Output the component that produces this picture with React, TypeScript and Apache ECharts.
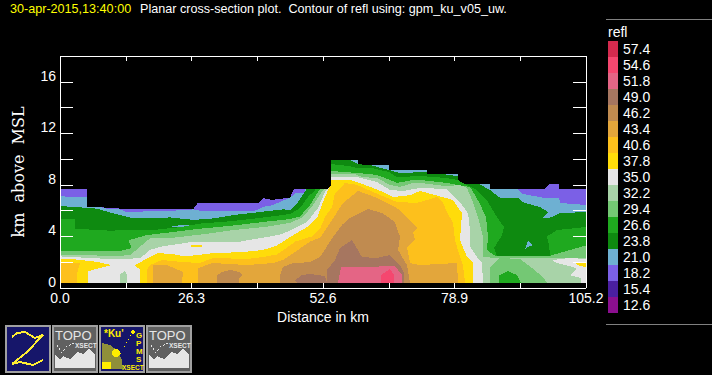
import React, { useEffect, useRef } from "react";
import * as echarts from "echarts";

type P = number[][];

// Legend
const legendLevels = ["57.4","54.6","51.8","49.0","46.2","43.4","40.6","37.8","35.0","32.2","29.4","26.6","23.8","21.0","18.2","15.4","12.6"];
const legendColors = ["#d42a4e","#f5476f","#e46585","#a67660","#c08b50","#e3a63b","#fdc01c","#ffdc0a","#e6e6e6","#a8d3a8","#74c874","#1fa91f","#0e8a10","#6eb0d2","#7b60e6","#4a1fa0","#8b0f8f"];
const colorOf = (level: string) => legendColors[legendLevels.indexOf(level)];

// Contour regions: [distance km, height km]
const refl18: P = [[0,.41],[0,7.68],[5.3,7.68],[5.3,6.26],[8.3,6.26],[12,6.16],[26.7,6.16],[27.5,6.57],[39.7,6.62],[40.7,6.98],[42.3,6.83],[46,7.01],[46.8,7.68],[54.2,7.68],[54.2,9.93],[59.6,9.93],[59.6,9.54],[65.8,9.54],[65.8,9.15],[73.3,9.15],[73.3,8.84],[79.5,8.84],[79.5,8.07],[86,8.07],[86,7.68],[97,7.68],[97.8,8.07],[99.8,8.07],[99.8,7.68],[105.2,7.68],[105.2,.41]];
const refl21: P = [[0,.41],[0,7.15],[1.9,7.05],[5.3,7.05],[5.3,6.26],[8.3,6.26],[9.3,6.16],[12,6.1],[13.3,5.9],[22.7,6.0],[26.7,6.1],[28,6.0],[39,6.0],[40.7,6.3],[42.3,6.4],[46,7.0],[47,7.35],[49,7.4],[49,7.68],[54.2,7.68],[54.2,9.93],[59.6,9.93],[59.6,9.54],[65.8,9.54],[65.8,9.15],[73.3,9.15],[73.3,8.84],[79.5,8.84],[79.5,8.07],[86,8.07],[86,7.68],[91.4,7.68],[92.6,7.29],[97,6.98],[99.8,6.98],[100,6.6],[105.2,6.44],[105.2,.41]];
const refl24: P = [[0,.41],[0,6.36],[4,6.26],[7.3,6.16],[10.7,5.79],[14.7,5.4],[18.7,5.4],[22,5.48],[26.7,5.28],[30.7,5.4],[34.7,5.66],[38.7,5.84],[44.7,6.1],[46,6.05],[47.6,6.67],[49.2,7.6],[49.2,7.68],[54.2,7.68],[54.2,9.93],[58,9.93],[59.6,9.6],[62,9.54],[65.8,9.15],[68,8.92],[73.3,9.0],[73.3,8.84],[76.6,8.84],[79.5,8.68],[79.5,8.07],[83.8,8.07],[86,7.6],[88,7.0],[91.6,7.0],[92.4,6.67],[96,6.28],[97.6,5.9],[96.6,5.43],[98,5.46],[100,5.8],[105.2,5.9],[105.2,.41]];
const refl21IslandA: P = [[22.2,4.78],[24.5,4.89],[27.6,4.82],[24.5,4.68]];
const refl21IslandB: P = [[93,3.03],[93.6,3.65],[94.6,3.34],[93.6,3.18]];
const refl27: P = [[0,.41],[0,5.35],[3,5.35],[3,4.6],[10,4.45],[14.7,4.5],[18.7,4.5],[24,4.72],[28,5.0],[34.7,5.2],[41.3,5.5],[46,5.74],[48,6.2],[49.6,7.06],[51,7.6],[51,7.68],[54.2,7.68],[54.2,9.62],[58,9.45],[59.6,9.3],[62.4,9.3],[65.8,9.0],[67.4,8.6],[72,8.69],[77.4,8.53],[79.5,8.38],[83.4,7.6],[85.6,6.67],[87.4,5.5],[88.8,4.73],[88.4,4.1],[86.8,3.1],[87.4,2.5],[98,2.5],[97.8,3.34],[97.4,4.0],[99.4,4.5],[105.2,4.73],[105.2,.41]];
const refl29: P = [[0,.41],[0,2.88],[12,2.88],[14.3,3.1],[13.7,3.7],[17.3,4.1],[22.7,4.35],[28,4.6],[34.7,4.85],[41.3,5.15],[46,5.35],[48,5.55],[50,6.44],[51.6,7.45],[52,7.68],[54.2,7.68],[54.2,9.08],[59.6,8.92],[63.4,8.77],[66,8.38],[67.4,8.15],[70.6,8.38],[72,8.38],[77.4,8.15],[79.5,8.0],[82,7.84],[83.8,6.67],[85.2,5.5],[85.6,3.96],[85.4,2.95],[87,2.5],[98,2.5],[103.4,3.1],[105.2,3.3],[105.2,.41]];
const refl32: P = [[0,.41],[0,2.6],[11.3,2.48],[14,2.55],[16,3.2],[18,3.85],[22.7,3.9],[29.3,4.2],[34.7,4.5],[41.3,4.75],[46,5.05],[48.6,5.5],[50.6,6.44],[52.6,7.6],[53,7.68],[54.2,7.68],[54.2,8.84],[59,8.84],[60.4,8.61],[63.4,8.53],[66,8.0],[68,7.84],[70.6,8.15],[72,8.15],[77.4,7.9],[80,8.0],[81.4,7.75],[82.4,6.83],[83.6,5.5],[84.6,3.96],[84.6,2.42],[87,2.33],[98,2.33],[105.2,2.33],[105.2,.41]];
const refl29Patch: P = [[86,.41],[86,1.63],[88,2.33],[92,2.25],[94.4,1.55],[96.6,.85],[97.4,.41]];
const refl27Patch: P = [[87.8,.41],[87.9,1.0],[89.6,1.32],[91.4,1.0],[92.2,.41]];
const refl35: P = [[0,.41],[0,2.45],[10,2.25],[16,2.3],[18,2.95],[20,3.2],[26,3.55],[29.3,3.6],[36,3.6],[41.3,3.95],[44,4.15],[46,4.45],[49.4,5.12],[51.6,6.2],[53,7.45],[53.6,7.76],[54.2,7.7],[54.2,8.61],[59.4,8.61],[63.4,8.22],[66,7.6],[68.6,7.53],[72,7.76],[77.4,7.68],[80,6.67],[81.6,5.8],[82,4.5],[82,3.2],[83.4,2.4],[84.4,2.0],[84.6,.41]];
const refl35Patch: P = [[98.4,2.17],[102,2.33],[105.2,2.25],[105.2,.41],[104.1,.41],[104.1,.78],[102,1.0],[103.4,1.47],[102.6,1.63],[99.4,1.94]];
const refl32Strip: P = [[12,.41],[12,1.1],[13,1.3],[13.3,1.1],[13.3,.41]];
const refl38Left: P = [[0,.41],[0,2.25],[3,2.22],[7,2.05],[10.4,1.78],[8,1.55],[5.6,1.3],[5.6,.41]];
const refl38: P = [[16,.41],[16,1.4],[15,1.78],[17.6,2.33],[19.6,2.7],[22.4,2.64],[25,2.45],[30.6,2.7],[36.6,2.79],[40.6,2.95],[43.4,3.3],[46,3.95],[49.4,4.73],[51.4,5.43],[52.6,6.67],[53.8,7.76],[54.2,8.0],[54.2,8.38],[58,8.38],[60,8.15],[64.6,7.45],[66.6,7.06],[70,7.2],[72,7.53],[78.6,6.83],[80.4,5.8],[80,3.72],[81.4,2.4],[82.6,2.0],[82.6,.41]];
const refl38Right: P = [[103,1.94],[105.2,1.94],[105.2,1.63],[104,1.7]];
const refl38Speck: P = [[26.2,3.2],[28.4,3.2],[28.4,3.32],[26.2,3.32]];
const refl41Left: P = [[0,.41],[0,1.95],[4,1.95],[3.4,1.1],[3.4,.41]];
const refl41: P = [[17.4,.41],[17.4,1.4],[18,1.78],[20.4,2.17],[25,2.0],[28,1.94],[30.6,2.33],[37.4,2.25],[40.6,2.4],[43.4,2.6],[46,3.3],[47,3.6],[50.4,4.0],[52,4.6],[53,5.5],[54.4,6.28],[55,7.37],[56.4,7.9],[57,8.15],[59.4,8.0],[62.6,7.45],[67.4,6.67],[71.4,6.6],[75.4,7.06],[76.6,6.6],[77.4,5.9],[78.6,5.04],[79,3.72],[80,2.4],[80.6,1.78],[81,.41]];
const refl43Left: P = [[18.6,.41],[18.6,1.78],[21.4,1.78],[24.6,1.24],[24.4,.41]];
const refl43: P = [[27.6,.41],[27.6,1.55],[30.6,1.94],[37.4,1.78],[42.6,1.94],[44.6,2.17],[47.4,2.9],[50,3.6],[52,3.9],[54,5.04],[56.6,6.6],[59.6,7.53],[63.4,7.0],[67.4,6.2],[70.6,5.04],[71.4,4.65],[70.6,4.34],[71,3.72],[69.4,3.18],[70,1.94],[72,1.78],[79.4,1.94],[79.6,.41]];
const refl46Left: P = [[31.4,.41],[31.4,1.0],[32.4,1.24],[34,1.4],[36,1.24],[36.6,1.0],[35.8,.78],[35.8,.41]];
const refl46: P = [[44,.41],[44,1.0],[44.6,1.63],[46.6,1.94],[50,2.0],[52,2.4],[54.6,3.96],[56.4,4.9],[58,5.43],[61.6,6.13],[64.4,5.82],[67,5.12],[68,3.96],[67.6,2.95],[69.4,1.78],[70,.41]];
const refl49Left: P = [[47.4,.41],[47,.62],[48.4,1.0],[50,1.09],[53,.93],[53.4,.41]];
const refl49: P = [[53.4,.41],[53.4,1.4],[55,2.17],[56,3.1],[58.4,3.72],[60.4,2.4],[63.4,2.33],[66,2.56],[68,1.78],[68.8,1.16],[68.8,.41]];
const refl52: P = [[55.6,.41],[56.2,1.63],[60,1.63],[67,1.7],[68.4,1.0],[68.4,.41]];
const refl55: P = [[64.2,.41],[64.2,1.0],[66,1.47],[66.8,1.0],[66.8,.41]];

const layers: [string, P][] = [
  ["18.2", refl18], ["21.0", refl21], ["23.8", refl24], ["21.0", refl21IslandA], ["21.0", refl21IslandB],
  ["26.6", refl27], ["29.4", refl29], ["32.2", refl32], ["29.4", refl29Patch], ["26.6", refl27Patch],
  ["35.0", refl35], ["35.0", refl35Patch], ["32.2", refl32Strip],
  ["37.8", refl38Left], ["37.8", refl38], ["37.8", refl38Right], ["37.8", refl38Speck],
  ["40.6", refl41Left], ["40.6", refl41], ["43.4", refl43Left], ["43.4", refl43],
  ["46.2", refl46Left], ["46.2", refl46], ["49.0", refl49Left], ["49.0", refl49],
  ["51.8", refl52], ["54.6", refl55],
];

const xTickStep = 13.15;
const xMax = 105.2;
const yMax = 18;
const font = "'Liberation Sans', Arial, sans-serif";

const topoIcon = (x: number) => [
  { type: "rect", shape: { x: x + 1, y: 326, width: 44, height: 46 }, style: { fill: "#606060", stroke: "#a0a0a0", lineWidth: 2 } },
  { type: "text", x: x + 3, y: 329, style: { text: "TOPO", fill: "#e6e6e6", font: `13px ${font}` } },
  { type: "text", x: x + 23, y: 342, style: { text: "XSECT", fill: "#e6e6e6", font: `bold 6.5px ${font}` } },
  { type: "polygon", shape: { points: [[x + 3, 355], [x + 8, 359], [x + 11, 356], [x + 18, 359], [x + 26, 352], [x + 31, 354], [x + 37, 349], [x + 43, 355], [x + 43, 368], [x + 3, 368]] }, style: { fill: "#e6e6e6" } },
  { type: "polyline", shape: { points: [[x + 5, 345], [x + 10, 353], [x + 14, 347], [x + 22, 343]] }, style: { stroke: "#e6e6e6", lineWidth: 1, lineDash: [2, 2], fill: "none" } },
];

const zIcon = [
  { type: "rect", shape: { x: 6, y: 326, width: 44, height: 46 }, style: { fill: "#16166a", stroke: "#a0a0a0", lineWidth: 2 } },
  { type: "polyline", shape: { points: [[12, 337], [17, 333], [25, 332], [35, 338], [43, 335], [27, 352], [12, 364], [20, 362], [33, 365], [43, 360]] }, style: { stroke: "#ffee33", lineWidth: 2, fill: "none" } },
];

const gpmLetters = ["G", "P", "M", "S"];
const gpmIcon = [
  { type: "rect", shape: { x: 100, y: 326, width: 44, height: 46 }, style: { fill: "#16166a", stroke: "#a0a0a0", lineWidth: 2 } },
  { type: "polygon", shape: { points: [[102, 343], [110, 345], [118, 351], [122, 360], [123, 369], [102, 369]] }, style: { fill: "#8f8f3a" } },
  { type: "circle", shape: { cx: 116, cy: 353, r: 4 }, style: { fill: "#ffee00" } },
  { type: "rect", shape: { x: 102, y: 362, width: 9, height: 7 }, style: { fill: "#ffee00" } },
  { type: "circle", shape: { cx: 133, cy: 332, r: 2 }, style: { fill: "#ffee00" } },
  { type: "polyline", shape: { points: [[133, 332], [120, 355]] }, style: { stroke: "#ffee00", lineWidth: 1, lineDash: [1, 3], fill: "none" } },
  { type: "text", x: 104, y: 328, style: { text: "*Ku'", fill: "#ffee00", font: `bold 10px ${font}` } },
  ...gpmLetters.map((t, i) => ({ type: "text", x: 136, y: [331, 339, 347, 355][i], style: { text: t, fill: "#ffee00", font: `bold 8px ${font}` } })),
  { type: "text", x: 122, y: 364, style: { text: "XSECT", fill: "#ffee00", font: `bold 6.5px ${font}` } },
];

export default function App() {
  const ref = useRef<HTMLDivElement>(null);
  useEffect(() => {
    document.body.style.margin = "0";
    document.body.style.background = "#000";
    const chart = echarts.init(ref.current!, null, { renderer: "svg" });
    const axisLine = { show: true, onZero: false, lineStyle: { color: "#fff", width: 1 } };
    chart.setOption({
      animation: false,
      backgroundColor: "#000",
      grid: { left: 60, right: 126, top: 56, bottom: 87 },
      xAxis: [
        {
          type: "value", min: 0, max: xMax, interval: xTickStep, position: "bottom", z: 10,
          name: "Distance in km", nameLocation: "middle", nameGap: 18,
          nameTextStyle: { color: "#fff", fontFamily: font, fontSize: 14 },
          axisLine, splitLine: { show: false },
          axisTick: { show: true, inside: true, length: 5, lineStyle: { color: "#fff" } },
          axisLabel: { color: "#fff", fontFamily: font, fontSize: 14, margin: 3, showMinLabel: true, showMaxLabel: true, hideOverlap: false,
            formatter: (v: number) => (Math.round(v / xTickStep) % 2 === 0 ? v.toFixed(1) : "") },
        },
        {
          type: "value", min: 0, max: xMax, interval: xTickStep, position: "top", z: 10,
          axisLine, splitLine: { show: false },
          axisTick: { show: true, inside: true, length: 5, lineStyle: { color: "#fff" } },
          axisLabel: { show: false },
        },
      ],
      yAxis: [
        {
          type: "value", min: 0, max: yMax, interval: 2, position: "left", z: 10,
          name: "km  above  MSL", nameLocation: "middle", nameGap: 34, nameRotate: 90,
          nameTextStyle: { color: "#fff", fontFamily: "'DejaVu Serif', serif", fontSize: 16 },
          axisLine, splitLine: { show: false },
          axisTick: { show: true, inside: true, length: 13, lineStyle: { color: "#fff" } },
          axisLabel: { color: "#fff", fontFamily: font, fontSize: 14, margin: 4, verticalAlign: "bottom", lineHeight: 12,
            formatter: (v: number) => (v % 4 === 0 ? String(v) : "") },
        },
        {
          type: "value", min: 0, max: yMax, interval: 2, position: "right", z: 10,
          axisLine, splitLine: { show: false },
          axisTick: { show: true, inside: true, length: 13, lineStyle: { color: "#fff" } },
          axisLabel: { show: false },
        },
      ],
      series: layers.map(([level, points]) => ({
        type: "custom",
        name: level,
        coordinateSystem: "cartesian2d",
        xAxisIndex: 0,
        yAxisIndex: 0,
        clip: true,
        data: points,
        encode: { x: 0, y: 1 },
        renderItem: (params: any, api: any) => {
          if (params.dataIndexInside !== 0) return null;
          return {
            type: "polygon",
            shape: { points: points.map((p) => api.coord(p)) },
            style: { fill: colorOf(level), stroke: "none" },
            silent: true,
          };
        },
      })),
      graphic: [
        { type: "text", x: 10, y: 2, style: { text: "30-apr-2015,13:40:00", fill: "#ffff00", font: `12.6px ${font}` } },
        { type: "text", x: 140, y: 2, style: { text: "Planar cross-section plot.  Contour of refl using: gpm_ku_v05_uw.", fill: "#fff", font: `12.6px ${font}` } },
        { type: "line", shape: { x1: 606, y1: 19.5, x2: 712, y2: 19.5 }, style: { stroke: "#808080", lineWidth: 1 } },
        { type: "line", shape: { x1: 606, y1: 324.5, x2: 712, y2: 324.5 }, style: { stroke: "#808080", lineWidth: 1 } },
        { type: "text", x: 608, y: 25, style: { text: "refl", fill: "#fff", font: `14px ${font}` } },
        ...legendLevels.flatMap((lv, i) => [
          { type: "rect", shape: { x: 608, y: 41 + 16 * i, width: 10, height: 16 }, style: { fill: legendColors[i] } },
          { type: "text", x: 623, y: 41 + 16 * i + 1, style: { text: lv, fill: "#fff", font: `14px ${font}` } },
        ]),
        ...zIcon,
        ...topoIcon(52),
        ...gpmIcon,
        ...topoIcon(146),
      ],
    });
    return () => chart.dispose();
  }, []);
  return <div ref={ref} style={{ width: 712, height: 375, shapeRendering: "crispEdges" } as any} />;
}
